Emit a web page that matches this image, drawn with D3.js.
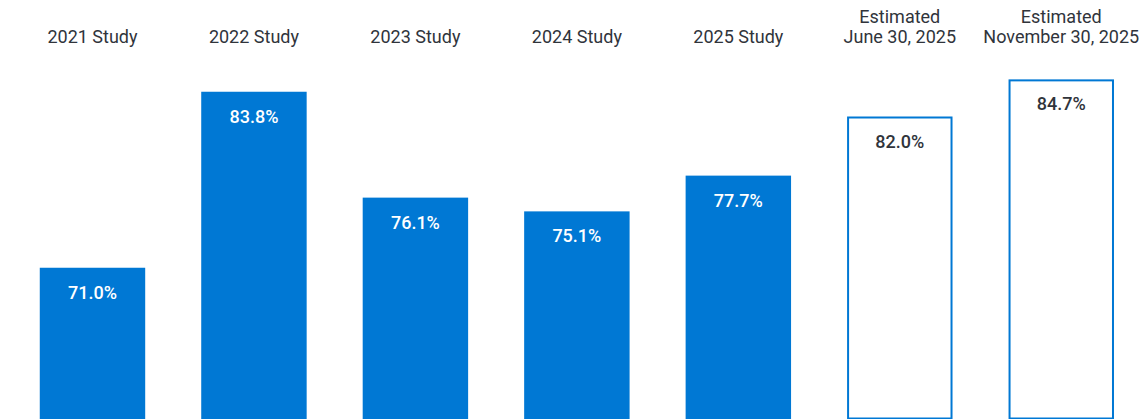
<!DOCTYPE html>
<html>
<head>
<meta charset="utf-8">
<script src="https://cdn.jsdelivr.net/npm/d3@7"></script>
<style>
  html, body { margin: 0; padding: 0; background: #fff; }
  svg { display: block; }
  text { font-family: Roboto, "Open Sans", sans-serif; }
</style>
</head>
<body>
<svg id="chart" width="1139" height="419"></svg>
<script>
// Categories (multi-line labels split on "|")
const categories = [
  "2021 Study",
  "2022 Study",
  "2023 Study",
  "2024 Study",
  "2025 Study",
  "Estimated|June 30, 2025",
  "Estimated|November 30, 2025"
];
// Percent values
const values = [71.0, 83.8, 76.1, 75.1, 77.7, 82.0, 84.7];
// Whether the bar is an estimate (drawn as outline)
const estimated = [false, false, false, false, false, true, true];

const W = 1139, H = 419;
const blue = "#0078d4";
const ink = "#30343b";

const svg = d3.select("#chart");

const x = d3.scaleBand()
  .domain(categories)
  .range([11.75, 1142])
  .paddingInner(0.347)
  .paddingOuter(0.1735);

const y = d3.scaleLinear()
  .domain([60, 90])
  .range([H, 6.5]);

const data = categories.map((c, i) => ({ c, v: values[i], est: estimated[i] }));

// Bars
svg.append("g").selectAll("rect")
  .data(data)
  .join("rect")
  .attr("x", d => d.est ? x(d.c) + 1 : x(d.c))
  .attr("y", d => d.est ? y(d.v) + 1 : y(d.v))
  .attr("width", d => d.est ? x.bandwidth() - 2 : x.bandwidth())
  .attr("height", d => d.est ? y(60) - y(d.v) - 1.5 : y(60) - y(d.v))
  .attr("fill", d => d.est ? "#fff" : blue)
  .attr("stroke", d => d.est ? blue : "none")
  .attr("stroke-width", 2);

// Value labels inside bars
svg.append("g").selectAll("text")
  .data(data)
  .join("text")
  .attr("x", d => x(d.c) + x.bandwidth() / 2)
  .attr("y", d => y(d.v) + 31)
  .attr("text-anchor", "middle")
  .attr("font-size", 18)
  .attr("font-weight", 500)
  .attr("fill", d => d.est ? ink : "#fff")
  .text(d => d3.format(".1f")(d.v) + "%");

// Category labels above the bars
const cat = svg.append("g").selectAll("text")
  .data(data)
  .join("text")
  .attr("text-anchor", "middle")
  .attr("font-size", 18)
  .attr("font-weight", 400)
  .attr("fill", ink);

cat.each(function(d) {
  const lines = d.c.split("|");
  const cx = x(d.c) + x.bandwidth() / 2;
  const base = 43.3 - (lines.length - 1) * 20;
  d3.select(this).selectAll("tspan")
    .data(lines)
    .join("tspan")
    .attr("x", cx)
    .attr("y", (l, i) => base + i * 20)
    .text(l => l);
});
</script>
</body>
</html>
